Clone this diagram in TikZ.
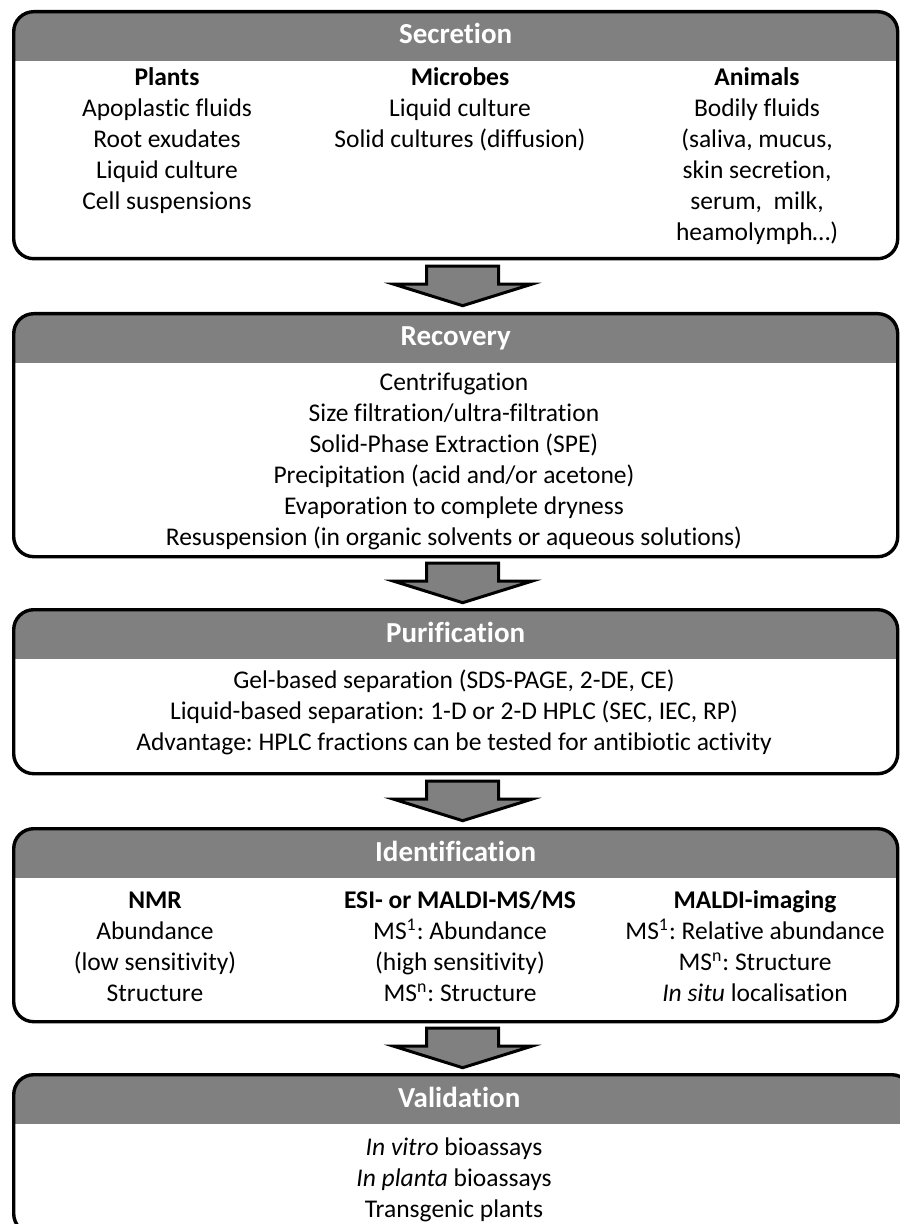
\documentclass[tikz,border=0pt]{standalone}
\usepackage{fontspec}
\setmainfont{Carlito}[Ligatures=CommonOff]
\usepackage{xcolor}
\usetikzlibrary{calc,positioning}
\definecolor{headGray}{RGB}{128,128,128}
\frenchspacing
\tikzset{
  stagebox/.style={draw=black,line width=1.7pt,rounded corners=10pt,fill=white,anchor=north west,inner sep=0pt,minimum width=442pt,
    path picture={\fill[headGray,sharp corners] (path picture bounding box.north west) rectangle ([yshift=-24.5pt]path picture bounding box.north east);}},
  stagetitle/.style={anchor=base,text=white,font=\bfseries\fontsize{14.5}{17}\selectfont},
  stagetext/.style={anchor=north,align=center,inner sep=0pt,font=\fontsize{12.75}{15.5}\selectfont},
  steparrow/.style={draw=black,fill=headGray,line width=1.5pt,line join=miter}
}
% block arrow between two stages
\newcommand{\StepArrow}[2]{%
  \draw[steparrow,shift={($(#1.south)!0.5!(#1.south |- #2.north)+(7,0)$)}]
    (-36,-20) -- (36,-20) -- (36,-2) -- (69,-2) -- (0,19.5) -- (-69,-2) -- (-36,-2) -- cycle;}

\begin{document}
\begin{tikzpicture}[x=0.5pt,y=-0.5pt]
\useasboundingbox (0,0) rectangle (899,1224);

% Secretion
\node[stagebox,minimum height=123.5pt] (sec) at (12,10) {};
\node[stagetitle] (secTitle) at ($(sec.north)+(0,34)$) {Secretion};
\node[stagetext] (secPlants) at (167,63.5) {\strut\textbf{Plants}\\Apoplastic fluids\\Root exudates\\Liquid culture\\Cell suspensions};
\node[stagetext] (secMicrobes) at (460,63.5) {\strut\textbf{Microbes}\\Liquid culture\\Solid cultures (diffusion)};
\node[stagetext] (secAnimals) at (757,63.5) {\strut\textbf{Animals}\\Bodily fluids\\(saliva, mucus,\\skin secretion,\\serum,\ \ milk,\\heamolymph…)};

% Recovery
\node[stagebox,minimum height=121.5pt] (rec) at (12,312) {};
\node[stagetitle] (recTitle) at ($(rec.north)+(0,34)$) {Recovery};
\node[stagetext] (recSteps) at (454,368.5) {\strut Centrifugation\\Size filtration/ultra-filtration\\Solid-Phase Extraction (SPE)\\Precipitation (acid and/or acetone)\\Evaporation to complete dryness\\Resuspension (in organic solvents or aqueous solutions)};

% Purification
\node[stagebox,minimum height=82pt] (pur) at (12,608) {};
\node[stagetitle] (purTitle) at ($(pur.north)+(0,34)$) {Purification};
\node[stagetext] (purSteps) at (454,666.5) {\strut Gel-based separation (SDS-PAGE, 2-DE, CE)\\Liquid-based separation: 1-D or 2-D HPLC (SEC, IEC, RP)\\Advantage: HPLC fractions can be tested for antibiotic activity};

% Identification
\node[stagebox,minimum height=96.5pt] (iden) at (12,827) {};
\node[stagetitle] (idenTitle) at ($(iden.north)+(0,34)$) {Identification};
\node[stagetext] (idenNmr) at (155,886.5) {\strut\textbf{NMR}\\Abundance\\(low sensitivity)\\Structure};
\node[stagetext] (idenEsi) at (460,886.5) {\strut\textbf{ESI- or MALDI-MS/MS}\\MS\textsuperscript{1}: Abundance\\(high sensitivity)\\MS\textsuperscript{n}: Structure};
\node[stagetext] (idenImaging) at (755,886.5) {\strut\textbf{MALDI-imaging}\\MS\textsuperscript{1}: Relative abundance\\MS\textsuperscript{n}: Structure\\\textit{In situ} localisation};

% Validation
\node[stagebox,minimum height=79.5pt,minimum width=449pt] (val) at (12,1073) {};
\node[stagetitle] (valTitle) at ($(val.north)+(-3.5,34)$) {Validation};
\node[stagetext] (valSteps) at (454,1133.5) {\strut\textit{In vitro} bioassays\\\textit{In planta} bioassays\\Transgenic plants};

\StepArrow{sec}{rec}
\StepArrow{rec}{pur}
\StepArrow{pur}{iden}
\StepArrow{iden}{val}
\end{tikzpicture}
\end{document}
